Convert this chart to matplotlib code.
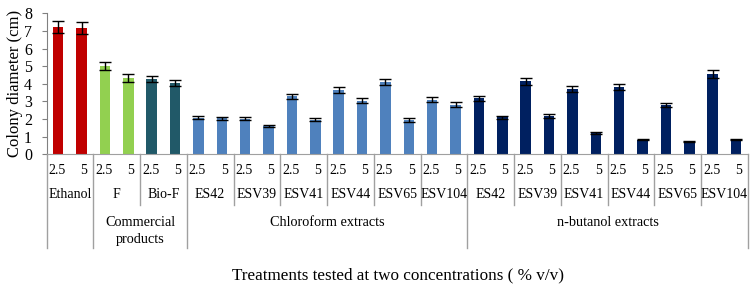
import matplotlib
matplotlib.use("Agg")
import matplotlib.pyplot as plt
from matplotlib.transforms import blended_transform_factory
import numpy as np

plt.rcParams['font.family'] = ['Liberation Serif', 'DejaVu Serif']

concentrations = ["2.5", "5"]
groups = ["Ethanol", "F", "Bio-F",
          "ES42", "ESV39", "ESV41", "ESV44", "ESV65", "ESV104",
          "ES42", "ESV39", "ESV41", "ESV44", "ESV65", "ESV104"]
top_labels = ["", "Commercial\nproducts", "Chloroform extracts", "n-butanol extracts"]
top_spans = [1, 2, 6, 6]  # number of groups per top-level label
values = [7.25, 7.18, 5.02, 4.33, 4.28, 4.07,
          2.07, 2.04, 2.02, 1.62, 3.28, 1.95, 3.62, 3.05, 4.1, 1.95, 3.1, 2.82,
          3.18, 2.1, 4.15, 2.16, 3.72, 1.18, 3.8, 0.82, 2.8, 0.7, 4.57, 0.82]
errors = [0.35, 0.36, 0.22, 0.2, 0.18, 0.17,
          0.1, 0.1, 0.08, 0.06, 0.15, 0.08, 0.17, 0.14, 0.18, 0.1, 0.14, 0.12,
          0.14, 0.08, 0.2, 0.1, 0.17, 0.05, 0.17, 0.03, 0.13, 0.02, 0.22, 0.03]
group_colors = ["#C00000", "#92D050", "#215968"] + ["#4F81BD"] * 6 + ["#002060"] * 6

fig = plt.figure(figsize=(7.5, 2.87), dpi=100)
ax = fig.add_axes([0.062, 0.463, 0.935, 0.49])

n = len(values)
x = np.arange(n)
colors = [group_colors[i // 2] for i in range(n)]
ax.bar(x, values, width=0.45, color=colors, edgecolor='none',
       yerr=errors, error_kw=dict(ecolor='black', elinewidth=1, capsize=4.2, capthick=1))

ax.set_xlim(-0.5, n - 0.5)
ax.set_ylim(0, 8)
ax.set_yticks(range(0, 9))
ax.tick_params(axis='y', labelsize=11.5, direction='out', length=3.5, pad=7, color='#808080')
ax.set_xticks([])
ax.set_ylabel("Colony diameter (cm)", fontsize=12, labelpad=1)
for s in ['top', 'right']:
    ax.spines[s].set_visible(False)
ax.spines['bottom'].set_color('#A0A0A0')
ax.spines['left'].set_color('#808080')

tr = blended_transform_factory(ax.transData, fig.transFigure)
H = 287.0
def fy(py):
    return 1 - py / H

# concentration labels
for i in range(n):
    ax.text(x[i] + (-0.05 if i % 2 == 0 else 0.1), fy(171), concentrations[i % 2],
            transform=tr, ha='center', va='center', fontsize=10)

# group labels
for g, name in enumerate(groups):
    ax.text(2 * g + 0.5, fy(194), name, transform=tr, ha='center', va='center', fontsize=10)

# separators
line_kw = dict(color='#A0A0A0', lw=1, transform=tr, clip_on=False)
boundaries = []
pos = 0
for sp in top_spans:
    boundaries.append(pos)
    pos += sp
boundaries.append(pos)
for g in range(len(groups) + 1):
    xb = 2 * g - 0.5
    if g in boundaries:
        ax.plot([xb, xb], [fy(154), fy(248)], **line_kw)
    else:
        ax.plot([xb, xb], [fy(154), fy(205)], **line_kw)

# top-level labels
for k, lab in enumerate(top_labels):
    start = boundaries[k]
    end = boundaries[k + 1]
    xc = (2 * start + 2 * end - 1) / 2
    ax.text(xc, fy(231) if "\n" in lab else fy(222), lab, transform=tr,
            ha='center', va='center', fontsize=10.3, linespacing=1.3)

fig.text(0.531, fy(275), "Treatments tested at two concentrations ( % v/v)",
         ha='center', va='center', fontsize=12.3)

fig.savefig("out.png", dpi=100)
